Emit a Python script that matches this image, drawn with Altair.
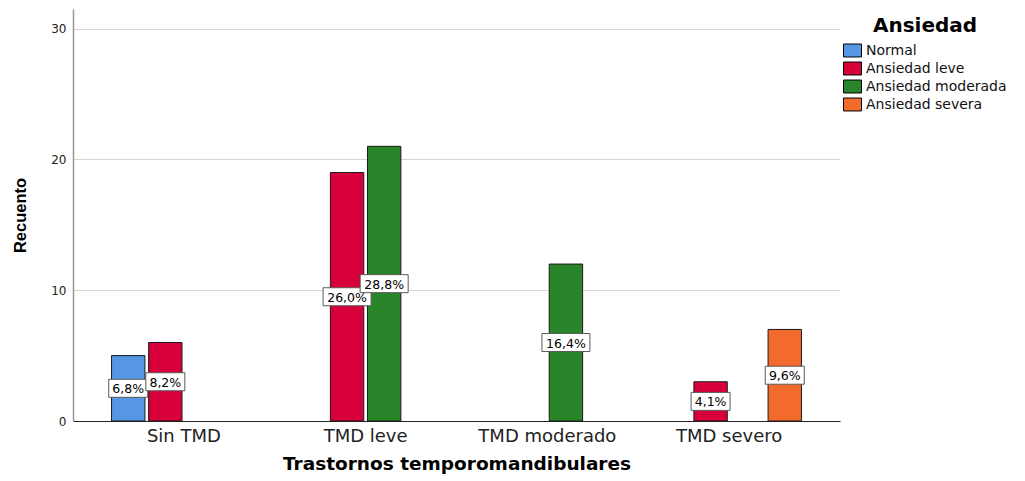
import altair as alt
import pandas as pd

categories = ["Sin TMD", "TMD leve", "TMD moderado", "TMD severo"]
series = ["Normal", "Ansiedad leve", "Ansiedad moderada", "Ansiedad severa"]
colors = ["#5597E4", "#D7003A", "#2A8429", "#F26A2C"]

bar_cat = ["Sin TMD", "Sin TMD", "TMD leve", "TMD leve", "TMD moderado", "TMD severo", "TMD severo"]
bar_series = ["Normal", "Ansiedad leve", "Ansiedad leve", "Ansiedad moderada",
              "Ansiedad moderada", "Ansiedad leve", "Ansiedad severa"]
bar_count = [5, 6, 19, 21, 12, 3, 7]
bar_label = ["6,8%", "8,2%", "26,0%", "28,8%", "16,4%", "4,1%", "9,6%"]

df = pd.DataFrame({"cat": bar_cat, "ser": bar_series, "count": bar_count, "label": bar_label})

FONT = "DejaVu Sans"
VFONT = "Liberation Sans"

x = alt.X("cat:N", sort=categories,
          scale=alt.Scale(domain=categories, paddingInner=0, paddingOuter=0.11),
          axis=alt.Axis(title="Trastornos temporomandibulares", labelAngle=0, ticks=False,
                        labelFontSize=18, labelColor="#222222", labelPadding=6,
                        labelFont=FONT,
                        titleFont=FONT, titleFontSize=18.5, titleFontWeight="bold",
                        titleColor="#000000", titlePadding=9,
                        domainColor="#222222", grid=False))
xo = alt.XOffset("ser:N", sort=series,
                 scale=alt.Scale(domain=series, paddingInner=0.1, paddingOuter=0.5))
y = alt.Y("count:Q",
          scale=alt.Scale(domain=[0, 31.5], nice=False),
          axis=alt.Axis(title="Recuento", values=[0, 10, 20, 30], ticks=False,
                        labelFont=FONT, labelFontSize=12, labelColor="#222222", labelPadding=7,
                        titleFont=VFONT, titleFontSize=16.5, titleFontWeight="bold",
                        titleColor="#000000", titleX=-48, titleY=206,
                        titleBaseline="alphabetic", titleAngle=270,
                        domainColor="#999999", domainWidth=1.5, gridColor="#D6D6D6"))

color = alt.Color("ser:N", sort=series,
                  scale=alt.Scale(domain=series, range=colors),
                  legend=alt.Legend(title="Ansiedad", orient="none", legendX=770, legendY=7,
                                    titleFont=FONT, titleFontSize=20, titleFontWeight="bold",
                                    titleColor="#000000", titleAnchor="middle", titlePadding=5,
                                    labelFont=FONT, labelFontSize=14, labelColor="#111111",
                                    labelOffset=4,
                                    symbolType="M-1,-0.72H1V0.72H-1Z", symbolSize=324,
                                    symbolStrokeColor="#000000", symbolStrokeWidth=1,
                                    symbolOpacity=1, rowPadding=0))

bars = alt.Chart(df).mark_bar(stroke="#1a1a1a", strokeWidth=1, opacity=1).encode(
    x=x, xOffset=xo, y=y, color=color)

base_lab = alt.Chart(df).transform_calculate(mid="datum.count / 2")
enc = dict(x=alt.X("cat:N", sort=categories), xOffset=alt.XOffset("ser:N", sort=series),
           y=alt.Y("mid:Q"))

box4 = base_lab.transform_filter("length(datum.label) <= 4").mark_point(
    shape="M-1,-0.4615H1V0.4615H-1Z", size=39 * 39, filled=True, fill="#FFFFFF",
    stroke="#5a5a5a", strokeWidth=1, opacity=1).encode(**enc)
box5 = base_lab.transform_filter("length(datum.label) > 4").mark_point(
    shape="M-1,-0.375H1V0.375H-1Z", size=48 * 48, filled=True, fill="#FFFFFF",
    stroke="#5a5a5a", strokeWidth=1, opacity=1).encode(**enc)
text = base_lab.mark_text(font=FONT, fontSize=12.5, color="#000000", dy=1).encode(
    text="label:N", **enc)

chart = alt.layer(bars, box4, box5, text).properties(
    width=767, height=412,
    autosize=alt.AutoSizeParams(type="none"),
    padding={"left": 65, "top": 1, "right": 170, "bottom": 56},
).configure_view(stroke=None)

chart.save("out.html", embed_options={"renderer": "svg", "actions": False})
